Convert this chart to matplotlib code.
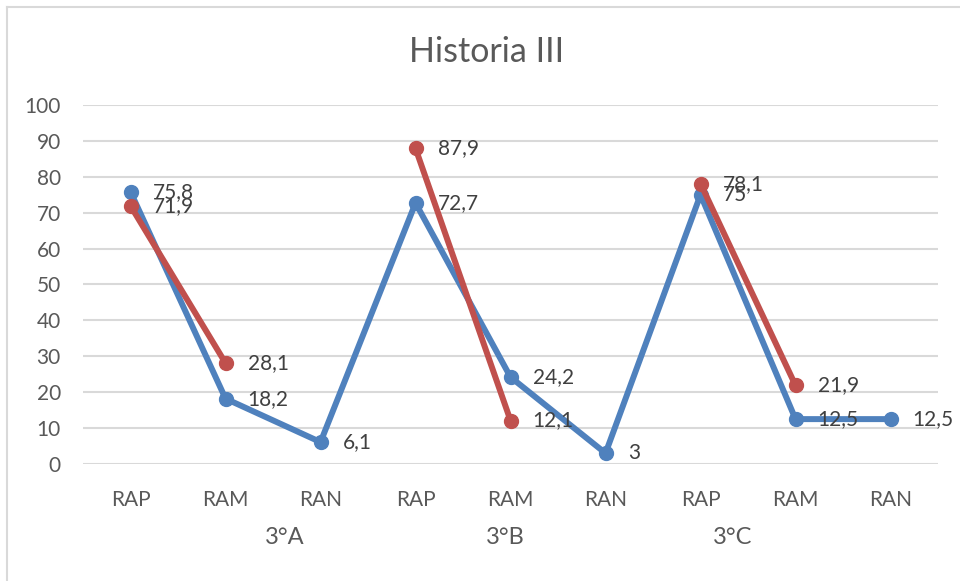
import numpy as np
import matplotlib.pyplot as plt
from matplotlib.lines import Line2D
from matplotlib.transforms import blended_transform_factory

# Datos del gráfico
categorias = ["RAP", "RAM", "RAN", "RAP", "RAM", "RAN", "RAP", "RAM", "RAN"]
grupos = ["3°A", "3°B", "3°C"]
serie_azul = [75.8, 18.2, 6.1, 72.7, 24.2, 3, 75, 12.5, 12.5]
serie_roja = [71.9, 28.1, np.nan, 87.9, 12.1, np.nan, 78.1, 21.9, np.nan]
etiquetas_azul = ["75,8", "18,2", "6,1", "72,7", "24,2", "3", "75", "12,5", "12,5"]
etiquetas_roja = ["71,9", "28,1", "", "87,9", "12,1", "", "78,1", "21,9", ""]

# posición horizontal de las etiquetas de grupo (como en la imagen original)
pos_grupos = [1.62, 3.95, 6.34]

azul = "#4F81BD"
rojo = "#C0504D"
gris_texto = "#595959"
gris_linea = "#D9D9D9"

plt.rcParams['font.family'] = ['Lato', 'DejaVu Sans']

fig = plt.figure(figsize=(9.6, 5.81), dpi=100)
ax = fig.add_axes([0.0865, 0.2014, 0.8906, 0.6179])

x = np.arange(len(categorias))
ax.plot(x, serie_azul, '-o', color=azul, lw=4.3, markersize=10, zorder=3)
ax.plot(x, serie_roja, '-o', color=rojo, lw=4.3, markersize=10, zorder=4)

# Etiquetas de datos a la derecha de cada punto
for xi, v, t in zip(x, serie_azul, etiquetas_azul):
    ax.annotate(t, (xi, v), xytext=(16, 0), textcoords='offset points',
                ha='left', va='center', fontsize=15, color="#404040", zorder=6)
for xi, v, t in zip(x, serie_roja, etiquetas_roja):
    if t:
        ax.annotate(t, (xi, v), xytext=(16, 0), textcoords='offset points',
                    ha='left', va='center', fontsize=15, color="#404040", zorder=6)

ax.set_xlim(-0.5, len(categorias) - 0.5)
ax.set_ylim(0, 100)
ax.set_yticks(np.arange(0, 101, 10))
ax.yaxis.grid(True, color=gris_linea, lw=1.5)
ax.set_axisbelow(True)
for s in ax.spines.values():
    s.set_visible(False)
ax.tick_params(axis='both', length=0, labelsize=15, labelcolor=gris_texto)
ax.tick_params(axis='y', pad=16)
ax.tick_params(axis='x', pad=19)
ax.set_xticks(x)
ax.set_xticklabels(categorias)

# Etiquetas de grupo
trans = blended_transform_factory(ax.transData, ax.transAxes)
for p, g in zip(pos_grupos, grupos):
    ax.text(p, -74 / 359, g, transform=trans, ha='center', va='center',
            fontsize=17, color=gris_texto)

fig.text(0.507, 1 - 52 / 581, "Historia III", ha='center', va='center',
         fontsize=24.5, color=gris_texto)

# Borde del gráfico (solo izquierda y arriba)
fig.add_artist(Line2D([7 / 960, 7 / 960], [0, 1 - 7 / 581], transform=fig.transFigure,
                      color=gris_linea, lw=1.5))
fig.add_artist(Line2D([7 / 960, 1], [1 - 7 / 581, 1 - 7 / 581], transform=fig.transFigure,
                      color=gris_linea, lw=1.5))

fig.savefig("out.png", dpi=100)
